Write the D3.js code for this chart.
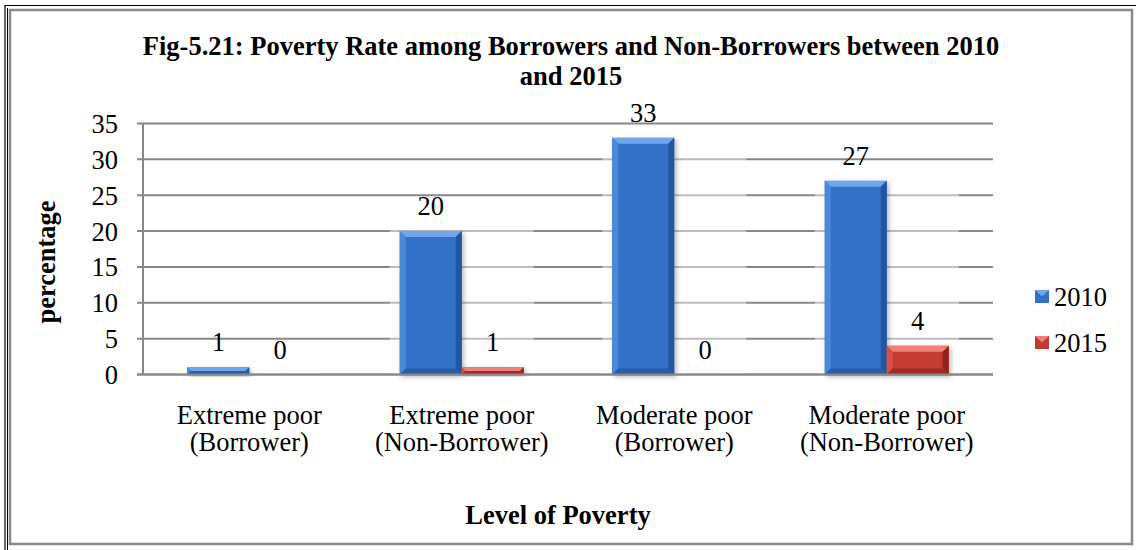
<!DOCTYPE html>
<html>
<head>
<meta charset="utf-8">
<script src="https://cdn.jsdelivr.net/npm/d3@7/dist/d3.min.js"></script>
<style>
  html, body { margin: 0; padding: 0; background: #fff; }
  svg { display: block; }
  text { font-family: "Liberation Serif", "Times New Roman", serif; fill: #000; }
</style>
</head>
<body>
<svg id="chart" width="1136" height="550"></svg>
<script>
// Poverty rate (%) by level of poverty, 2010 vs 2015
const categories = [
  ["Extreme poor", "(Borrower)"],
  ["Extreme poor", "(Non-Borrower)"],
  ["Moderate poor", "(Borrower)"],
  ["Moderate poor", "(Non-Borrower)"]
];
const seriesNames = ["2010", "2015"];
const values2010 = [1, 20, 33, 27];
const values2015 = [0, 1, 0, 4];
const yTicks = [0, 5, 10, 15, 20, 25, 30, 35];

const titleLines = [
  "Fig-5.21: Poverty Rate among Borrowers and Non-Borrowers between 2010",
  "and 2015"
];
const yTitle = "percentage";
const xTitle = "Level of Poverty";

const palette = {
  "2010": { face: "#3371c6", top: "#72a6ec", left: "#4c88d8", right: "#22569e", bottom: "#295da6" },
  "2015": { face: "#c33a31", top: "#ef8078", left: "#d4504a", right: "#922420", bottom: "#a02b26" }
};

const FS = 26.5;

const svg = d3.select("#chart");

// page frame and chart border
svg.append("line").attr("x1", 5).attr("x2", 1136).attr("y1", 5.5).attr("y2", 5.5)
  .attr("stroke", "#000").attr("stroke-width", 1.2);
svg.append("line").attr("x1", 5).attr("x2", 5).attr("y1", 5).attr("y2", 550)
  .attr("stroke", "#000").attr("stroke-width", 1.2);
svg.append("line").attr("x1", 7.5).attr("x2", 7.5).attr("y1", 8).attr("y2", 550)
  .attr("stroke", "#000").attr("stroke-width", 1);
svg.append("rect").attr("x", 10).attr("y", 10).attr("width", 1122).attr("height", 534)
  .attr("fill", "none").attr("stroke", "#8a8a8a").attr("stroke-width", 2.5);

const plot = { left: 143, right: 993, top: 123.5, bottom: 374.5 };

const y = d3.scaleLinear().domain([0, 35]).range([plot.bottom, plot.top]);
const x0 = d3.scaleBand().domain(d3.range(categories.length))
  .range([plot.left, plot.right]).paddingInner(0.4165).paddingOuter(0.4165 / 2);
const x1 = d3.scaleBand().domain(seriesNames).range([0, x0.bandwidth()]);

const rows = categories.map((c, i) => ({
  i, label: c,
  bars: [
    { key: "2010", value: values2010[i] },
    { key: "2015", value: values2015[i] }
  ]
}));

// soft shadow for bars
const defs = svg.append("defs");
const f = defs.append("filter").attr("id", "shadow").attr("x", "-30%").attr("y", "-30%")
  .attr("width", "160%").attr("height", "160%");
f.append("feDropShadow").attr("dx", 2).attr("dy", 2).attr("stdDeviation", 2.5)
  .attr("flood-color", "#000").attr("flood-opacity", 0.28);

// gridlines + tick marks (gridlines start at tick marks, left of the axis)
const yAxis = d3.axisLeft(y).tickValues(yTicks).tickSize(0).tickPadding(0).tickFormat(d3.format("d"));
const gGrid = svg.append("g");
gGrid.selectAll("line").data(yTicks).join("line")
  .attr("x1", plot.left - 6).attr("x2", plot.right)
  .attr("y1", d => y(d)).attr("y2", d => y(d))
  .attr("stroke", "#878787").attr("stroke-width", 2);

// lighter halo that fades gridlines around the bar groups
const halo = svg.append("g");
rows.forEach(r => {
  const top = y(d3.max(r.bars, b => b.value));
  halo.append("rect")
    .attr("x", x0(r.i) - 10).attr("width", x0.bandwidth() + 20)
    .attr("y", top - 3).attr("height", Math.max(0, plot.bottom - top + 2))
    .attr("fill", "#fff").attr("opacity", 0.45);
});

// y axis line
svg.append("line").attr("x1", plot.left).attr("x2", plot.left)
  .attr("y1", plot.top).attr("y2", plot.bottom)
  .attr("stroke", "#878787").attr("stroke-width", 2);

// y tick labels
const gy = svg.append("g").attr("transform", `translate(${plot.left - 25},0)`).call(yAxis);
gy.select(".domain").remove();
gy.attr("font-family", null);
gy.selectAll("text").attr("font-size", FS).attr("dy", "0.34em");

// bevelled bar
function bevelBar(g, bx, by, bw, bh, col) {
  if (bh <= 0) return;
  const b = Math.min(6, bh / 2, bw / 2);
  const x2 = bx + bw, y2 = by + bh;
  const bar = g.append("g").attr("filter", "url(#shadow)");
  bar.append("rect").attr("x", bx).attr("y", by).attr("width", bw).attr("height", bh).attr("fill", col.face);
  const poly = (pts, fill) => bar.append("polygon").attr("points", pts.map(p => p.join(",")).join(" ")).attr("fill", fill);
  poly([[bx, by], [x2, by], [x2 - b, by + b], [bx + b, by + b]], col.top);
  poly([[bx, by], [bx + b, by + b], [bx + b, y2 - b], [bx, y2]], col.left);
  poly([[x2, by], [x2, y2], [x2 - b, y2 - b], [x2 - b, by + b]], col.right);
  poly([[bx, y2], [bx + b, y2 - b], [x2 - b, y2 - b], [x2, y2]], col.bottom);
}

const gBars = svg.append("g");
rows.forEach(r => {
  r.bars.forEach(bar => {
    const bx = x0(r.i) + x1(bar.key);
    bevelBar(gBars, bx, y(bar.value), x1.bandwidth(), y(0) - y(bar.value), palette[bar.key]);
  });
});

// x axis baseline drawn over bar bottoms
svg.append("line").attr("x1", plot.left - 6).attr("x2", plot.right)
  .attr("y1", plot.bottom).attr("y2", plot.bottom)
  .attr("stroke", "#878787").attr("stroke-width", 2);

// value labels
const gLabels = svg.append("g");
rows.forEach(r => {
  r.bars.forEach(bar => {
    gLabels.append("text")
      .attr("x", x0(r.i) + x1(bar.key) + x1.bandwidth() / 2)
      .attr("y", y(bar.value) - 16)
      .attr("text-anchor", "middle").attr("font-size", FS)
      .text(bar.value);
  });
});

// category labels, two lines each
const gCat = svg.append("g");
rows.forEach(r => {
  const cx = x0(r.i) + x0.bandwidth() / 2;
  r.label.forEach((line, k) => {
    gCat.append("text").attr("text-anchor", "middle").attr("font-size", FS)
      .attr("x", cx).attr("y", 424 + k * 27).text(line);
  });
});

// titles
const tt = svg.append("text").attr("text-anchor", "middle").attr("font-size", FS)
  .attr("font-weight", "bold").attr("x", 571).attr("y", 55);
titleLines.forEach((line, k) => {
  tt.append("tspan").attr("x", 571).attr("dy", k === 0 ? 0 : 30).text(line);
});

svg.append("text").attr("text-anchor", "middle").attr("font-size", FS).attr("font-weight", "bold")
  .attr("transform", "translate(55,262) rotate(-90)").text(yTitle);

svg.append("text").attr("text-anchor", "middle").attr("font-size", FS).attr("font-weight", "bold")
  .attr("x", 558).attr("y", 524).text(xTitle);

// legend
const legend = svg.append("g");
seriesNames.forEach((s, k) => {
  const ly = 290 + k * 46;
  const col = palette[s];
  legend.append("rect").attr("x", 1035).attr("y", ly).attr("width", 14).attr("height", 13).attr("fill", col.face);
  legend.append("polygon").attr("points", `1035,${ly} 1049,${ly} 1042,${ly + 6.5}`).attr("fill", col.top);
  legend.append("text").attr("x", 1054).attr("y", ly + 16).attr("font-size", FS).text(s);
});
</script>
</body>
</html>
